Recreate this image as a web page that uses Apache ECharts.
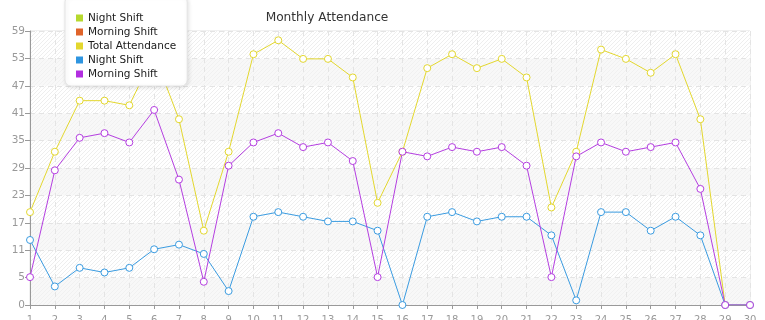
<!DOCTYPE html>
<html>
<head>
<meta charset="utf-8">
<script src="https://cdn.jsdelivr.net/npm/echarts@6/dist/echarts.min.js"></script>
<style>html,body{margin:0;padding:0;background:#fff}#c{width:765px;height:320px}</style>
</head>
<body>
<div id="c"></div>
<script>
const days = ['1','2','3','4','5','6','7','8','9','10','11','12','13','14','15','16','17','18','19','20','21','22','23','24','25','26','27','28','29','30'];
const nightShift = [14,4,8,7,8,12,13,11,3,19,20,19,18,18,16,0,19,20,18,19,19,15,1,20,20,16,19,15,0,0];
const morningShift = [6,29,36,37,35,42,27,5,30,35,37,34,35,31,6,33,32,34,33,34,30,6,32,35,33,34,35,25,0,0];
const totalAttendance = [20,33,44,44,43,54,40,16,33,54,57,53,53,49,22,33,51,54,51,53,49,21,33,55,53,50,54,40,0,0];
const yTicks = {min: 0, max: 59, step: 5.9};
const legendNames = ['Night Shift', 'Morning Shift', 'Total Attendance', 'Night Shift ', 'Morning Shift '];
const legendColors = ['#b6d92e', '#e0642a', '#e3d72e', '#2e95e0', '#b22ee0'];

function hatch(bg, line) {
  const c = document.createElement('canvas');
  c.width = 4; c.height = 4;
  const g = c.getContext('2d');
  g.fillStyle = bg; g.fillRect(0, 0, 4, 4);
  g.strokeStyle = line; g.lineWidth = 1;
  g.beginPath(); g.moveTo(-1, 5); g.lineTo(5, -1); g.stroke();
  g.beginPath(); g.moveTo(-1, 1); g.lineTo(1, -1); g.stroke();
  g.beginPath(); g.moveTo(3, 5); g.lineTo(5, 3); g.stroke();
  return {image: c, repeat: 'repeat'};
}

const chart = echarts.init(document.getElementById('c'), null, {renderer: 'canvas'});
const font = 'DejaVu Sans';
function lineSeries(name, color, data) {
  return {
    name: name, type: 'line', data: data,
    symbol: 'circle', symbolSize: 7, showSymbol: true,
    lineStyle: {width: 1, color: color},
    itemStyle: {color: '#fff', borderColor: color, borderWidth: 1},
    emphasis: {disabled: true},
    animation: false
  };
}
chart.setOption({
  animation: false,
  title: {
    text: 'Monthly Attendance', left: 322, top: 7, textAlign: 'center',
    textStyle: {fontFamily: font, fontSize: 12.2, fontWeight: 'normal', color: '#333'}
  },
  legend: {
    orient: 'vertical', left: 65, top: -4,
    padding: [15, 11, 5, 11], itemGap: 0,
    itemWidth: 7, itemHeight: 7, icon: 'rect',
    backgroundColor: '#fff', borderColor: '#e4e4e4', borderWidth: 1, borderRadius: 6,
    shadowBlur: 4, shadowColor: 'rgba(0,0,0,0.12)', shadowOffsetX: 1, shadowOffsetY: 1,
    textStyle: {fontFamily: font, fontSize: 10.5, color: '#1a1a1a', lineHeight: 14},
    data: legendNames.map(function (n, i) {
      return {name: n, icon: 'rect', itemStyle: {color: legendColors[i], borderWidth: 0}};
    }),
    selectedMode: false
  },
  grid: {left: 30, right: 15, top: 31, bottom: 15, containLabel: false, outerBoundsMode: 'none',
    show: true, borderColor: '#e2e2e2', borderWidth: 1, backgroundColor: 'transparent'},
  xAxis: {
    type: 'category', data: days, boundaryGap: false,
    axisLine: {lineStyle: {color: '#999'}},
    axisTick: {show: true, length: 4, lineStyle: {color: '#999'}},
    axisLabel: {fontFamily: font, fontSize: 10, color: '#999', margin: 10, interval: 0},
    splitLine: {show: true, lineStyle: {color: '#e4e4e4', type: [5, 4]}}
  },
  yAxis: {
    type: 'value', min: yTicks.min, max: yTicks.max, interval: yTicks.step,
    axisLine: {show: true, lineStyle: {color: '#999'}},
    axisTick: {show: true, length: 5, lineStyle: {color: '#999'}},
    axisLabel: {fontFamily: font, fontSize: 10.5, color: '#999', margin: 5,
      formatter: function (v) { return String(Math.floor(v + 1e-9)); }},
    splitLine: {show: true, lineStyle: {color: '#e4e4e4', type: [5, 4]}},
    splitArea: {show: true, areaStyle: {color: [hatch('#f8f8f8', '#f1f1f1'), hatch('#ffffff', '#eeeeee')]}}
  },
  series: [
    lineSeries(legendNames[0], legendColors[0], []),
    lineSeries(legendNames[1], legendColors[1], []),
    lineSeries(legendNames[2], '#e3d72e', totalAttendance),
    lineSeries(legendNames[3], '#3a9be0', nightShift),
    lineSeries(legendNames[4], '#b43ee0', morningShift)
  ]
});
</script>
</body>
</html>
